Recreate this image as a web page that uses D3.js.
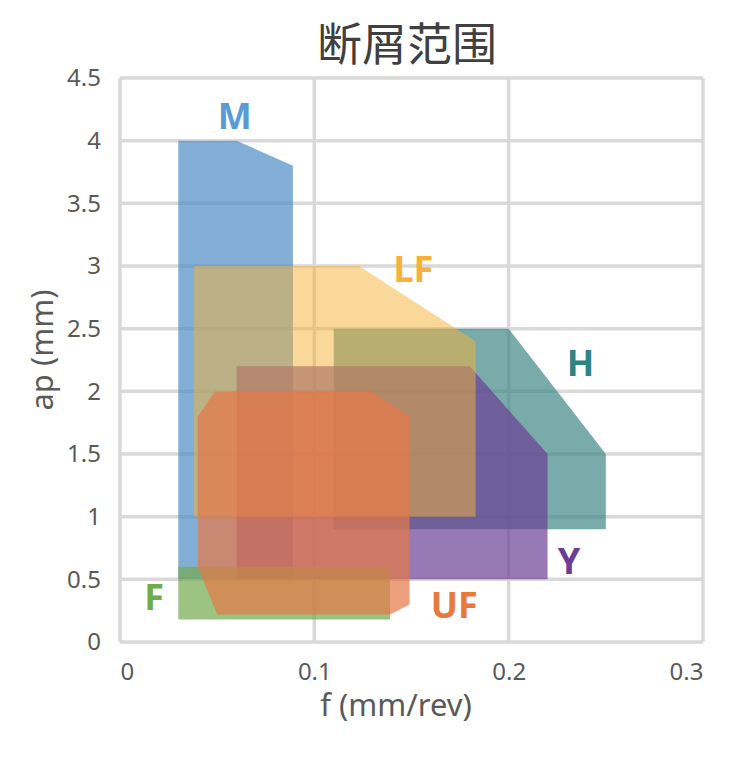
<!DOCTYPE html>
<html><head><meta charset="utf-8">
<script src="https://cdn.jsdelivr.net/npm/d3@7"></script>
<style>body{margin:0;background:#fff;} svg{display:block;}</style>
</head><body>
<svg id="chart" width="747" height="761"></svg>
<script>
const title = "断屑范围";
const xTicks = [0, 0.1, 0.2, 0.3];
const yTicks = [0, 0.5, 1, 1.5, 2, 2.5, 3, 3.5, 4, 4.5];
const seriesNames = ["M", "H", "Y", "LF", "F", "UF"];
const M  = [[0.03,0.5],[0.03,4.0],[0.06,4.0],[0.089,3.8],[0.089,0.5]];
const H  = [[0.11,0.9],[0.11,2.5],[0.2,2.5],[0.25,1.5],[0.25,0.9]];
const Y  = [[0.06,0.5],[0.06,2.2],[0.18,2.2],[0.22,1.5],[0.22,0.5]];
const LF = [[0.038,1.0],[0.038,3.0],[0.123,3.0],[0.183,2.4],[0.183,1.0]];
const F  = [[0.03,0.18],[0.03,0.6],[0.139,0.6],[0.139,0.18]];
const UF = [[0.04,0.6],[0.04,1.8],[0.049,2.0],[0.129,2.0],[0.149,1.8],[0.149,0.3],[0.139,0.22],[0.05,0.22]];
const labelPos = {M:[0.059,4.2], H:[0.237,2.23], Y:[0.231,0.65], LF:[0.151,2.98], F:[0.0175,0.36], UF:[0.172,0.3]};
const fills = {M:"#4f8dc4", H:"#408787", Y:"#6b4095", LF:"#f5b135", F:"#73a94e", UF:"#e57747"};
const opac  = {M:0.7, H:0.7, Y:0.7, LF:0.5, F:0.7, UF:0.7};
const labelColors = {M:"#5b9bd5", H:"#2e8484", Y:"#6a3d9a", LF:"#f6b13b", F:"#70ad47", UF:"#e8793a"};
const shapes = {M, H, Y, LF, F, UF};

const svg = d3.select("#chart");
const pL = 120, pR = 703, pT = 78, pB = 642;
const x = d3.scaleLinear().domain([0, 0.3]).range([pL, pR]);
const y = d3.scaleLinear().domain([0, 4.5]).range([pB, pT]);
const grid = "#d9d9d9";

// grid
const g = svg.append("g");
g.selectAll("line.h").data(yTicks).join("line")
  .attr("x1", pL).attr("x2", pR)
  .attr("y1", d => y(d)).attr("y2", d => y(d))
  .attr("stroke", grid).attr("stroke-width", 3.5);
g.selectAll("line.v").data(xTicks).join("line")
  .attr("y1", pT).attr("y2", pB)
  .attr("x1", d => x(d)).attr("x2", d => x(d))
  .attr("stroke", grid).attr("stroke-width", 3.5);

// shapes
const line = d3.line().x(d => x(d[0])).y(d => y(d[1]));
seriesNames.forEach(n => {
  svg.append("path").attr("d", line(shapes[n]) + "Z")
    .attr("fill", fills[n]).attr("fill-opacity", opac[n]);
});

// labels
seriesNames.forEach(n => {
  svg.append("text").attr("x", x(labelPos[n][0])).attr("y", y(labelPos[n][1]))
    .attr("text-anchor", "middle").attr("dominant-baseline", "central")
    .attr("font-family", "'Noto Sans', sans-serif").attr("font-weight", "bold")
    .attr("font-size", 36).attr("fill", labelColors[n]).text(n);
});

// axes
const xAxis = svg.append("g").attr("transform", `translate(0,${pB})`)
  .call(d3.axisBottom(x).tickValues(xTicks).tickSize(0).tickPadding(16).tickFormat(d => d3.format("")(d)));
const yAxis = svg.append("g").attr("transform", `translate(${pL},0)`)
  .call(d3.axisLeft(y).tickValues(yTicks).tickSize(0).tickPadding(19).tickFormat(d => d3.format("")(d)));
[xAxis, yAxis].forEach(a => {
  a.select(".domain").remove();
  a.selectAll("text").attr("font-family", "'Noto Sans', sans-serif").attr("font-size", 24).attr("fill", "#595959");
});
xAxis.selectAll("text").attr("dy", "0.9em");
xAxis.selectAll(".tick").filter(d => d === 0).select("text").attr("text-anchor", "start");
xAxis.selectAll(".tick").filter(d => d === 0.3).select("text").attr("text-anchor", "end");

// titles
svg.append("text").attr("x", 407).attr("y", 61).attr("text-anchor", "middle")
  .attr("font-family", "'Noto Sans CJK SC', sans-serif").attr("font-size", 45).attr("fill", "#404040").text(title);
svg.append("text").attr("x", 396).attr("y", 716).attr("text-anchor", "middle")
  .attr("font-family", "'Noto Sans', sans-serif").attr("font-size", 31).attr("fill", "#595959").text("f (mm/rev)");
svg.append("text").attr("transform", "translate(53,350) rotate(-90)").attr("text-anchor", "middle")
  .attr("font-family", "'Noto Sans', sans-serif").attr("font-size", 31).attr("fill", "#595959").text("ap (mm)");
</script>
</body></html>
